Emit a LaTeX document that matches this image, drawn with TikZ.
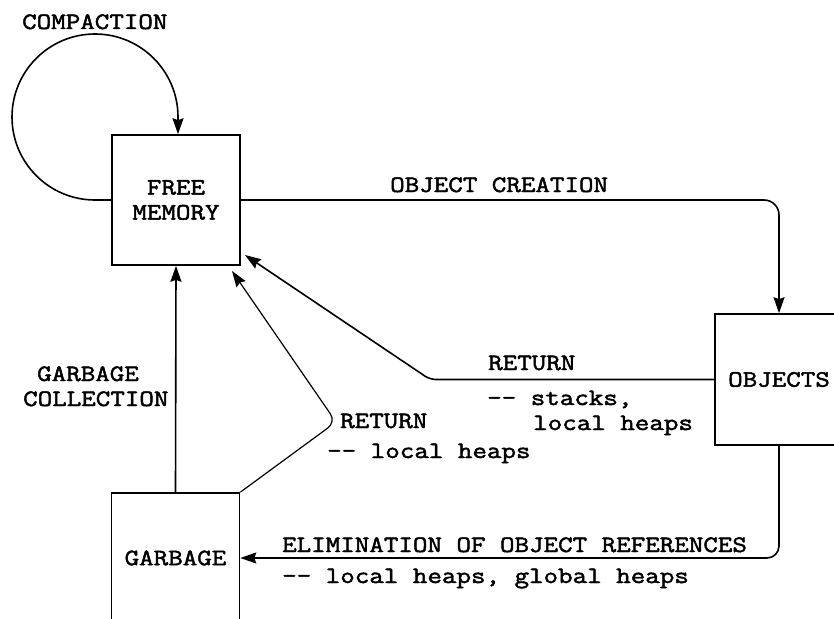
\documentclass[tikz,border=0pt]{standalone}
\usepackage{fontspec}
\setmonofont[FakeStretch=1.2, FakeBold=2]{Latin Modern Mono}
\usetikzlibrary{arrows.meta}
\newcommand\labfont{\ttfamily\fontsize{23.5}{25}\selectfont}
\begin{document}
\begin{tikzpicture}[x=1pt,y=-1pt,
  box/.style={draw, line width=1.6pt, minimum width=128pt, minimum height=130pt,
              inner sep=0pt, align=center, font=\labfont},
  flow/.style={line width=1.6pt, -{Stealth[length=16pt,width=11pt,inset=2pt]}},
  lbl/.style={anchor=base west, inner sep=0pt, font=\labfont}]
\clip (0,0) rectangle (834,618);

% storage states
\node[box] (fm) at (176,200) {FREE\\MEMORY};
\node[box, minimum height=131pt] (ob) at (779,379.5) {OBJECTS};
\node[box] (gb) at (175.5,558) {GARBAGE};

% arrow tips that stop just short of the free-memory box
\coordinate (r1) at (245,255);
\coordinate (r2) at (232,271);

% compaction loop
\draw[flow] (fm.west) -- (95,200) arc[start angle=90, end angle=360, radius=83]
  -- (178,0 |- fm.north);

% object creation
\draw[flow, rounded corners=15pt] (fm.east) -| (ob.north);

% return from objects
\draw[flow, rounded corners=6pt] (ob.west) -- (430,379.5) -- (r1);

% return from garbage
\draw[flow, line width=1.2pt, rounded corners=10pt] (gb.north east) -- (336,422) -- (r2);

% garbage collection
\draw[flow] (gb.north) -- (fm.south);

% elimination of references
\draw[flow, rounded corners=12pt] (ob.south) |- (gb.east);

% labels
\node[lbl] (tcomp) at (22,29) {COMPACTION};
\node[lbl] (tcreate) at (390,192) {OBJECT CREATION};
\node[lbl] (tret1) at (488,370) {RETURN};
\node[lbl] (tret1a) at (487,405) {-{}- stacks,};
\node[lbl] (tret1b) at (533,430) {local heaps};
\node[lbl] (tgc1) at (37,381) {GARBAGE};
\node[lbl] (tgc2) at (23,406) {COLLECTION};
\node[lbl] (tret2) at (340,428) {RETURN};
\node[lbl] (tret2a) at (327,458) {-{}- local heaps};
\node[lbl] (telim) at (282,552) {ELIMINATION OF OBJECT REFERENCES};
\node[lbl] (telima) at (282,583) {-{}- local heaps, global heaps};
\end{tikzpicture}
\end{document}
